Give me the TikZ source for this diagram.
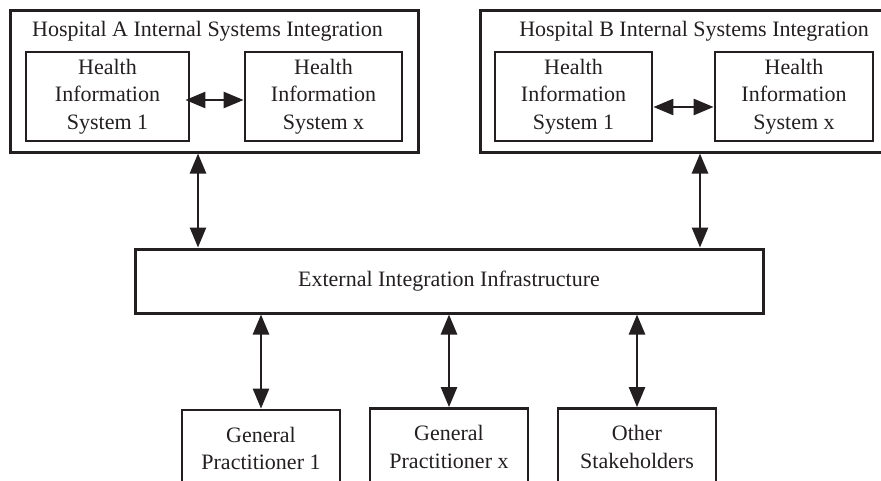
\documentclass[tikz,border=0pt]{standalone}
\usepackage{fontspec}
\setmainfont{Liberation Serif}
\usetikzlibrary{positioning, arrows.meta, calc}
\definecolor{ink}{HTML}{231F20}

\begin{document}
\begin{tikzpicture}[x=1pt, y=-1pt, font=\fontsize{22}{27.5}\selectfont, ink,
    hosbox/.style={draw, line width=3pt, inner sep=0pt, minimum height=142pt},
    sysbox/.style={draw, line width=2.8pt, align=center, inner sep=0pt,
      minimum width=157pt, minimum height=89pt},
    gpbox/.style={draw, line width=2.8pt, align=center, inner sep=0pt,
      minimum width=158pt, minimum height=77pt},
    arr/.style={{Triangle[length=20pt, width=16pt]}-{Triangle[length=20pt, width=16pt]},
      line width=2.6pt}]
    \useasboundingbox (0,0) rectangle (881,480);
    % hospital A
    \node[hosbox, minimum width=408pt] (hosa) at (214,81) {};
    \node (titlea) at (207.5,31) {Hospital A Internal Systems Integration};
    \node[sysbox, minimum width=163pt] (his1a) at (107.5,96.5)
      {Health\\Information\\System 1};
    \node[sysbox] (hisxa) at (323.5,96.5) {Health\\Information\\System x};
    % hospital B
    \node[hosbox, minimum width=403pt] (hosb) at (681.5,81) {};
    \node (titleb) at (694,31) {Hospital B Internal Systems Integration};
    \node[sysbox] (his1b) at (573.5,96.5) {Health\\Information\\System 1};
    \node[sysbox, minimum width=158pt] (hisxb) at (794,96.5)
      {Health\\Information\\System x};
    % external layer and stakeholders
    \node[draw, line width=3pt, minimum width=628pt, minimum height=64pt]
      (ext) at (449,281) {External Integration Infrastructure};
    \node[gpbox] (gp1) at (261,448.5) {General\\Practitioner 1};
    \node[gpbox] (gpx) at (449,447) {General\\Practitioner x};
    \node[gpbox] (other) at (637,447) {Other\\Stakeholders};
    \draw[arr, shorten <=-5pt] ([yshift=-3.5pt]his1a.east) -- ([yshift=-3.5pt]hisxa.west);
    \draw[arr] ([yshift=-10.5pt]his1b.east) -- ([yshift=-10.5pt]hisxb.west);
    \draw[arr] ([xshift=-16pt]hosa.south) -- ([xshift=-16pt]hosa.south |- ext.north);
    \draw[arr] ([xshift=18.5pt]hosb.south) -- ([xshift=18.5pt]hosb.south |- ext.north);
    \draw[arr] (gp1.north |- ext.south) -- (gp1.north);
    \draw[arr] (gpx.north |- ext.south) -- (gpx.north);
    \draw[arr] (other.north |- ext.south) -- (other.north);
\end{tikzpicture}
\end{document}
